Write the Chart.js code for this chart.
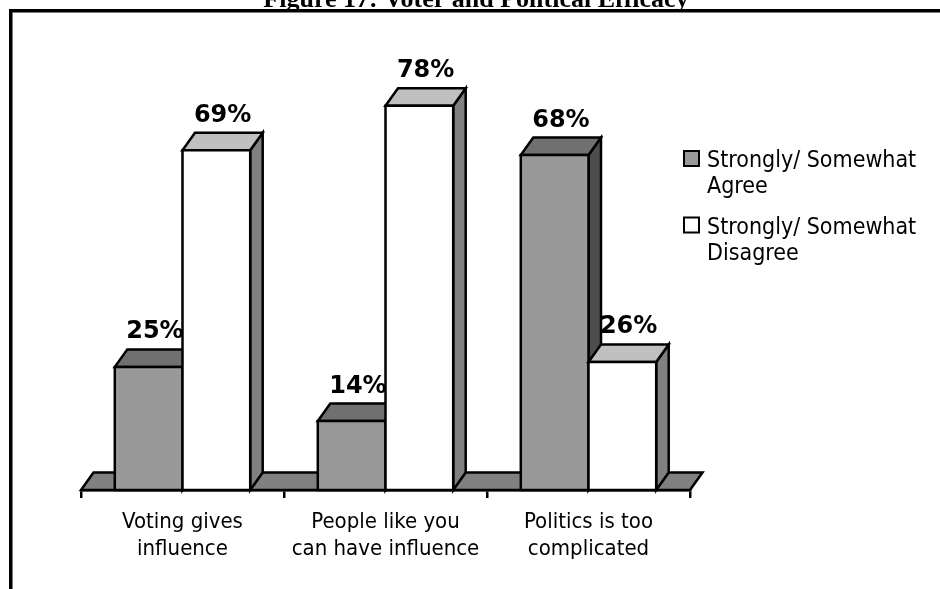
<!DOCTYPE html>
<html>
<head>
<meta charset="utf-8">
<script src="https://cdn.jsdelivr.net/npm/chart.js@4"></script>
<style>
  html, body { margin: 0; padding: 0; background: #fff; }
  #wrap { width: 940px; height: 589px; }
</style>
</head>
<body>
<div id="wrap"><canvas id="myChart" width="940" height="589"></canvas></div>
<script>
"use strict"

const chartTitle = 'Figure 17: Voter and Political Efficacy';
const categories = [['Voting gives', 'influence'], ['People like you', 'can have influence'], ['Politics is too', 'complicated']];
const seriesNames = [['Strongly/ Somewhat', 'Agree'], ['Strongly/ Somewhat', 'Disagree']];
const agreeValues = [25, 14, 68];
const disagreeValues = [69, 78, 26];

const textFont = '"DejaVu Sans Condensed", "DejaVu Sans", sans-serif';
const depthX = 12.5; // how far the back faces sit from the front ones
const depthY = 17.5;

// front, top and side colours for each series
const faces = [
    { front: '#999999', top: '#707070', side: '#4d4d4d' },
    { front: '#ffffff', top: '#c0c0c0', side: '#808080' }
];

function poly(ctx, pts, fill) {
    ctx.beginPath();
    ctx.moveTo(pts[0][0], pts[0][1]);
    for (let i = 1; i < pts.length; i++) {
        ctx.lineTo(pts[i][0], pts[i][1]);
    }
    ctx.closePath();
    ctx.fillStyle = fill;
    ctx.fill();
    ctx.stroke();
}

const boxes = {
    id: 'boxes',
    afterDraw(chart) {
        const ctx = chart.ctx;
        const area = chart.chartArea;
        const zero = chart.scales.y.getPixelForValue(0);

        ctx.save();
        ctx.lineWidth = 2.5;
        ctx.strokeStyle = '#000';
        ctx.lineJoin = 'miter';

        // floor
        poly(ctx, [[area.left, zero], [area.right, zero], [area.right + depthX, zero - depthY], [area.left + depthX, zero - depthY]], '#808080');

        // bars, one category at a time so the later ones cover the earlier sides
        for (let i = 0; i < categories.length; i++) {
            for (let d = 0; d < chart.data.datasets.length; d++) {
                const bar = chart.getDatasetMeta(d).data[i];
                const l = bar.x - bar.width / 2;
                const r = bar.x + bar.width / 2;
                const t = bar.y;
                const b = bar.base;
                const c = faces[d];
                poly(ctx, [[r, t], [r + depthX, t - depthY], [r + depthX, b - depthY], [r, b]], c.side);
                poly(ctx, [[l, t], [l + depthX, t - depthY], [r + depthX, t - depthY], [r, t]], c.top);
                poly(ctx, [[l, t], [r, t], [r, b], [l, b]], c.front);
            }
        }

        // value labels
        ctx.fillStyle = '#000';
        ctx.font = 'bold 24px "DejaVu Sans", sans-serif';
        ctx.textAlign = 'center';
        ctx.textBaseline = 'alphabetic';
        chart.data.datasets.forEach((ds, d) => {
            chart.getDatasetMeta(d).data.forEach((bar, i) => {
                ctx.fillText(ds.data[i] + '%', bar.x + depthX / 2, bar.y - depthY - 11);
            });
        });

        // legend
        ctx.font = '23px ' + textFont;
        ctx.textAlign = 'left';
        ctx.lineWidth = 2;
        seriesNames.forEach((name, d) => {
            const y = 167 + d * 66.5;
            ctx.fillStyle = faces[d].front;
            ctx.fillRect(684, y - 16, 15, 15);
            ctx.strokeRect(684, y - 16, 15, 15);
            ctx.fillStyle = '#000';
            name.forEach((line, k) => ctx.fillText(line, 707, y + k * 26));
        });

        // title, partly above the page edge
        ctx.font = 'bold 26px "Liberation Serif", serif';
        ctx.textAlign = 'center';
        ctx.fillText(chartTitle, 476, 7);

        // frame
        ctx.lineWidth = 3.5;
        ctx.strokeRect(10.75, 10.75, 960, 600);
        ctx.restore();
    }
};

const config = {
    type: 'bar',
    data: {
        labels: categories,
        datasets: [{
            label: seriesNames[0].join(' '),
            data: agreeValues,
            backgroundColor: 'rgba(0,0,0,0)',
            borderWidth: 0
        }, {
            label: seriesNames[1].join(' '),
            data: disagreeValues,
            backgroundColor: 'rgba(0,0,0,0)',
            borderWidth: 0
        }]
    },
    options: {
        responsive: false,
        animation: false,
        layout: { padding: { left: 81, right: 250, top: 96, bottom: 0 } },
        datasets: { bar: { categoryPercentage: 0.667, barPercentage: 1 } },
        plugins: {
            legend: { display: false },
            tooltip: { enabled: false }
        },
        scales: {
            x: {
                offset: true,
                afterFit(scale) { scale.height = 99; }, // keeps the floor line at y = 490
                grid: { display: true, drawOnChartArea: false, tickLength: 8, color: '#000', lineWidth: 2.5, offset: true },
                border: { display: true, color: '#000', width: 2.5 },
                ticks: { color: '#000', padding: 11, maxRotation: 0, font: { family: textFont, size: 22, lineHeight: 1.22 } }
            },
            y: { display: false, min: 0, max: 80 }
        }
    },
    plugins: [boxes]
};

const myChart = new Chart(document.getElementById('myChart'), config);
</script>
</body>
</html>
